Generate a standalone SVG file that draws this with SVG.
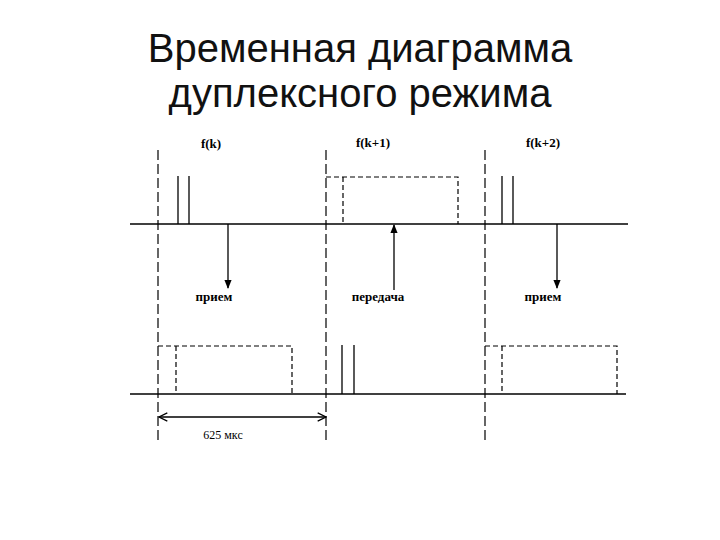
<svg xmlns="http://www.w3.org/2000/svg" width="720" height="540" viewBox="0 0 720 540">
<style>
.title{font-family:"Liberation Sans",Arial,sans-serif;font-size:40px;fill:#111;text-anchor:middle}
.lbl{font-family:"Liberation Serif","Times New Roman",serif;font-size:13px;font-weight:bold;fill:#000;text-anchor:middle}
.dim{font-family:"Liberation Serif","Times New Roman",serif;font-size:12px;fill:#000;text-anchor:middle}
.dash{stroke:#000;stroke-width:1.2;stroke-dasharray:10,4;fill:none}
.sdash{stroke:#000;stroke-width:1.2;stroke-dasharray:5,3;fill:none}
.solid{stroke:#000;stroke-width:1.3;fill:none}
</style>
<defs>
<marker id="ah" viewBox="0 0 10 10" refX="9" refY="5" markerWidth="7" markerHeight="7" orient="auto-start-reverse">
<path d="M0,1 L10,5 L0,9 Z" fill="#000"/>
</marker>
<marker id="ov" viewBox="0 0 10 10" refX="9" refY="5" markerWidth="8" markerHeight="8" orient="auto-start-reverse">
<path d="M1,1 L9,5 L1,9" fill="none" stroke="#000" stroke-width="1.2"/>
</marker>
</defs>
<rect width="720" height="540" fill="#fff"/>
<g id="title">
<text class="title" x="360" y="62">Временная диаграмма</text>
<text class="title" x="360" y="107">дуплексного режима</text>
</g>
<g id="timeslots">
<line class="dash" x1="158" y1="150" x2="158" y2="442"/>
<line class="dash" x1="326" y1="150" x2="326" y2="442"/>
<line class="dash" x1="485" y1="150" x2="485" y2="442"/>
</g>
<g id="axes">
<line class="solid" x1="130" y1="224" x2="628" y2="224"/>
<line class="solid" x1="130" y1="394" x2="626" y2="394"/>
</g>
<g id="upper-signals">
<line class="solid" x1="178" y1="176" x2="178" y2="224"/>
<line class="solid" x1="189" y1="176" x2="189" y2="224"/>
<path class="sdash" d="M326,177 H458 V224 M343,177 V224"/>
<line class="solid" x1="502" y1="176" x2="502" y2="224"/>
<line class="solid" x1="513" y1="176" x2="513" y2="224"/>
</g>
<g id="lower-signals">
<path class="sdash" d="M158,346 H292 V394 M176,346 V394"/>
<line class="solid" x1="342" y1="345" x2="342" y2="394"/>
<line class="solid" x1="354" y1="345" x2="354" y2="394"/>
<path class="sdash" d="M485,346 H617 V394 M502,346 V394"/>
</g>
<g id="connectors">
<line class="solid" x1="228" y1="224" x2="228" y2="288" marker-end="url(#ah)"/>
<line class="solid" x1="394" y1="290" x2="394" y2="225" marker-end="url(#ah)"/>
<line class="solid" x1="557" y1="224" x2="557" y2="288" marker-end="url(#ah)"/>
<line class="solid" x1="159" y1="417" x2="326" y2="417" marker-start="url(#ov)" marker-end="url(#ov)"/>
</g>
<g id="labels">
<text class="lbl" x="211" y="148">f(k)</text>
<text class="lbl" x="373" y="147">f(k+1)</text>
<text class="lbl" x="543" y="147">f(k+2)</text>
<text class="lbl" x="214" y="301">прием</text>
<text class="lbl" x="378" y="301">передача</text>
<text class="lbl" x="543" y="301">прием</text>
<text class="dim" x="223" y="439">625 мкс</text>
</g>
</svg>
